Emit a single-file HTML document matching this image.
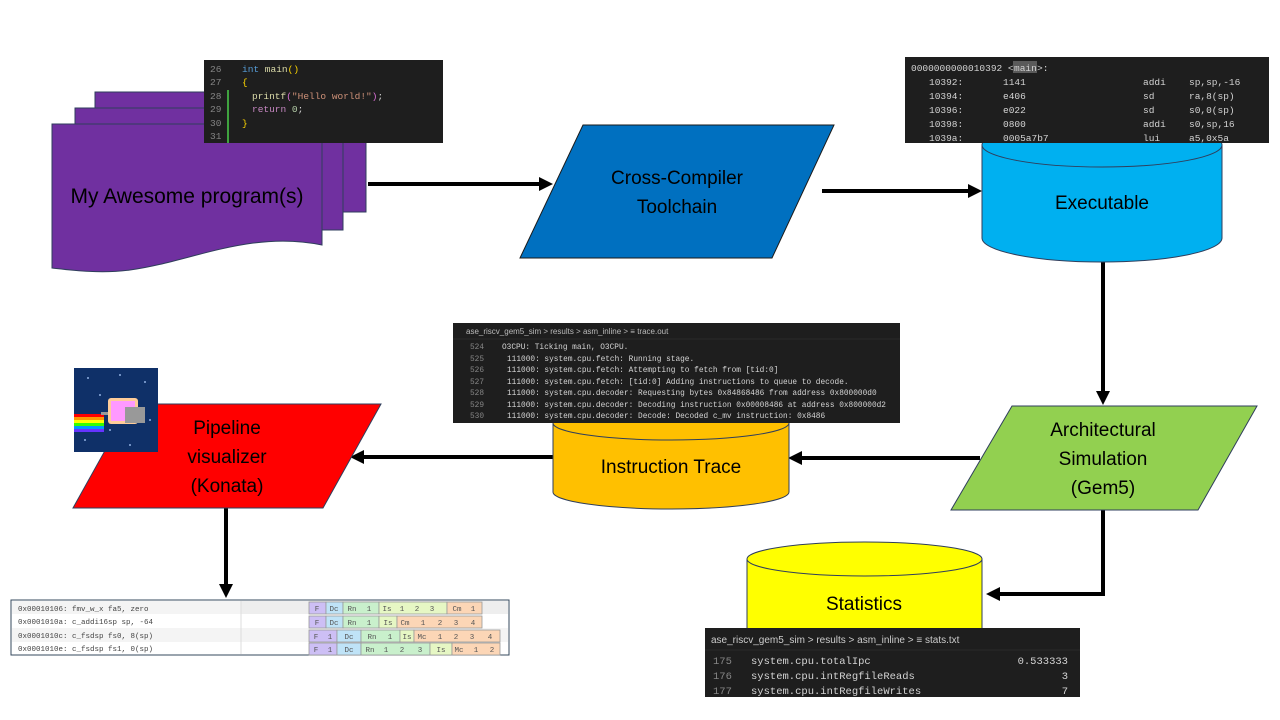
<!DOCTYPE html>
<html><head><meta charset="utf-8"><style>
html,body{margin:0;padding:0;background:#fff;width:1280px;height:720px;overflow:hidden}
svg{display:block}
.m{font-family:"Liberation Mono","DejaVu Sans Mono",monospace}
.s{font-family:"Liberation Sans","DejaVu Sans",sans-serif}
</style></head><body>
<svg width="1280" height="720" viewBox="0 0 1280 720" xmlns="http://www.w3.org/2000/svg">

<!-- connectors -->
<g stroke="#000" stroke-width="4" fill="none">
<line x1="368" y1="184" x2="540" y2="184"/>
<line x1="822" y1="191" x2="968" y2="191"/>
<line x1="1103" y1="262" x2="1103" y2="392"/>
<line x1="980" y1="458" x2="802" y2="458"/>
<line x1="553" y1="457" x2="364" y2="457"/>
<line x1="226" y1="508" x2="226" y2="585"/>
<polyline points="1103,510 1103,594 1000,594"/>
</g>
<g fill="#000">
<path d="M553,184 L539,177 L539,191 Z"/>
<path d="M982,191 L968,184 L968,198 Z"/>
<path d="M1103,405 L1096,391 L1110,391 Z"/>
<path d="M788,458 L802,451 L802,465 Z"/>
<path d="M350,457 L364,450 L364,464 Z"/>
<path d="M226,598 L219,584 L233,584 Z"/>
<path d="M986,594 L1000,587 L1000,601 Z"/>
</g>

<!-- multidocument -->
<g stroke="#2f3e5c" stroke-width="1" fill="#7030A0">
<rect x="95" y="92" width="271" height="120"/>
<rect x="75" y="108" width="268" height="122"/>
<path d="M52,124 L322,124 L322,245 C250,230 190,262 130,270 C100,274 70,270 52,268 Z"/>
</g>
<text x="187" y="203" text-anchor="middle" class="s" font-size="21" fill="#000">My Awesome program(s)</text>

<!-- code panel -->
<rect x="204" y="60" width="239" height="83" fill="#1e1e1e"/>
<line x1="228" y1="90" x2="228" y2="143" stroke="#3fa33f" stroke-width="2"/>
<g class="m" font-size="9.5">
<g fill="#858585"><text x="210" y="72">26</text><text x="210" y="85">27</text><text x="210" y="99">28</text><text x="210" y="112">29</text><text x="210" y="126">30</text><text x="210" y="139">31</text></g>
<text x="242" y="72"><tspan fill="#569cd6">int</tspan><tspan fill="#dcdcaa"> main</tspan><tspan fill="#ffd700">()</tspan></text>
<text x="242" y="85" fill="#ffd700">{</text>
<text x="252" y="99"><tspan fill="#dcdcaa">printf</tspan><tspan fill="#da70d6">(</tspan><tspan fill="#ce9178">"Hello world!"</tspan><tspan fill="#da70d6">)</tspan><tspan fill="#d4d4d4">;</tspan></text>
<text x="252" y="112"><tspan fill="#c586c0">return</tspan><tspan fill="#b5cea8"> 0</tspan><tspan fill="#d4d4d4">;</tspan></text>
<text x="242" y="126" fill="#ffd700">}</text>
</g>

<!-- cross compiler -->
<path d="M583,125 L834,125 L772,258 L520,258 Z" fill="#0070C0" stroke="#1a1a1a" stroke-width="1"/>
<text x="677" y="184" text-anchor="middle" class="s" font-size="19" fill="#000">Cross-Compiler</text>
<text x="677" y="213" text-anchor="middle" class="s" font-size="19" fill="#000">Toolchain</text>

<!-- executable cylinder -->
<path d="M982,145 L982,238 A120,24 0 0 0 1222,238 L1222,145 Z" fill="#00B0F0" stroke="#2f3e5c" stroke-width="1"/>
<ellipse cx="1102" cy="145" rx="120" ry="22" fill="#00B0F0" stroke="#2f3e5c" stroke-width="1"/>
<text x="1102" y="209" text-anchor="middle" class="s" font-size="19" fill="#000">Executable</text>

<!-- exec code panel -->
<rect x="905" y="57" width="364" height="86" fill="#1e1e1e"/>
<rect x="1013" y="61" width="24" height="12" fill="#5a5a5a"/>
<g class="m" font-size="9.5" fill="#d4d4d4">
<text x="911" y="71">0000000000010392 &lt;<tspan x="1014">main</tspan><tspan x="1037">&gt;:</tspan></text>
<text x="929" y="85">10392:</text><text x="1003" y="85">1141</text><text x="1143" y="85">addi</text><text x="1189" y="85">sp,sp,-16</text>
<text x="929" y="99">10394:</text><text x="1003" y="99">e406</text><text x="1143" y="99">sd</text><text x="1189" y="99">ra,8(sp)</text>
<text x="929" y="113">10396:</text><text x="1003" y="113">e022</text><text x="1143" y="113">sd</text><text x="1189" y="113">s0,0(sp)</text>
<text x="929" y="127">10398:</text><text x="1003" y="127">0800</text><text x="1143" y="127">addi</text><text x="1189" y="127">s0,sp,16</text>
<text x="929" y="141">1039a:</text><text x="1003" y="141">0005a7b7</text><text x="1143" y="141">lui</text><text x="1189" y="141">a5,0x5a</text>
</g>

<!-- Architectural Simulation -->
<path d="M1012,406 L1257,406 L1198,510 L951,510 Z" fill="#92D050" stroke="#2f3e5c" stroke-width="1"/>
<g class="s" font-size="19" fill="#000" text-anchor="middle">
<text x="1103" y="436">Architectural</text>
<text x="1103" y="465">Simulation</text>
<text x="1103" y="494">(Gem5)</text>
</g>

<!-- instruction trace cylinder -->
<path d="M553,423 L553,492 A118,17 0 0 0 789,492 L789,423 Z" fill="#FFC000" stroke="#2f3e5c" stroke-width="1"/>
<ellipse cx="671" cy="423" rx="118" ry="17" fill="#FFC000" stroke="#2f3e5c" stroke-width="1"/>
<text x="671" y="473" text-anchor="middle" class="s" font-size="19" fill="#000">Instruction Trace</text>

<!-- trace panel -->
<rect x="453" y="323" width="447" height="100" fill="#1e1e1e"/>
<line x1="453" y1="339" x2="900" y2="339" stroke="#2b2b2b"/>
<text x="466" y="334" class="s" font-size="8" fill="#bbb">ase_riscv_gem5_sim &gt; results &gt; asm_inline &gt;  ≡ trace.out</text>
<g class="m" font-size="7.8">
<g fill="#858585"><text x="470" y="349">524</text><text x="470" y="361">525</text><text x="470" y="372">526</text><text x="470" y="384">527</text><text x="470" y="395">528</text><text x="470" y="407">529</text><text x="470" y="418">530</text></g>
<g fill="#d4d4d4">
<text x="502" y="349">O3CPU: Ticking main, O3CPU.</text>
<text x="507" y="361">111000: system.cpu.fetch: Running stage.</text>
<text x="507" y="372">111000: system.cpu.fetch: Attempting to fetch from [tid:0]</text>
<text x="507" y="384">111000: system.cpu.fetch: [tid:0] Adding instructions to queue to decode.</text>
<text x="507" y="395">111000: system.cpu.decoder: Requesting bytes 0x84868486 from address 0x800000d0</text>
<text x="507" y="407">111000: system.cpu.decoder: Decoding instruction 0x00008486 at address 0x800000d2</text>
<text x="507" y="418">111000: system.cpu.decoder: Decode: Decoded c_mv instruction: 0x8486</text>
</g></g>

<!-- pipeline visualizer -->
<path d="M131,404 L381,404 L323,508 L73,508 Z" fill="#FF0000" stroke="#2f3e5c" stroke-width="1"/>
<g class="s" font-size="19" fill="#000" text-anchor="middle">
<text x="227" y="434">Pipeline</text>
<text x="227" y="463">visualizer</text>
<text x="227" y="492">(Konata)</text>
</g>

<!-- nyan cat -->
<rect x="74" y="368" width="84" height="84" fill="#0f3068"/>
<g fill="#8fb0e0"><circle cx="88" cy="378" r="1"/><circle cx="120" cy="375" r="1"/><circle cx="145" cy="382" r="1"/><circle cx="100" cy="395" r="1"/><circle cx="150" cy="420" r="1"/><circle cx="85" cy="440" r="1"/><circle cx="130" cy="445" r="1"/><circle cx="110" cy="430" r="1"/></g>
<rect x="74" y="414" width="30" height="3" fill="#ff0000"/><rect x="74" y="417" width="30" height="3" fill="#ff9900"/><rect x="74" y="420" width="30" height="3" fill="#ffff00"/><rect x="74" y="423" width="30" height="3" fill="#33ff00"/><rect x="74" y="426" width="30" height="3" fill="#0099ff"/><rect x="74" y="429" width="30" height="3" fill="#6633ff"/>
<rect x="108" y="398" width="30" height="26" rx="3" fill="#ffcc99"/><rect x="111" y="401" width="24" height="20" fill="#ff99ff"/>
<rect x="125" y="407" width="20" height="16" fill="#999"/>
<rect x="101" y="412" width="7" height="3" fill="#999"/>

<!-- statistics cylinder -->
<path d="M747,559 L747,640 L982,640 L982,559 Z" fill="#FFFF00" stroke="#2f3e5c" stroke-width="1"/>
<ellipse cx="864.5" cy="559" rx="117.5" ry="17" fill="#FFFF00" stroke="#2f3e5c" stroke-width="1"/>
<text x="864" y="610" text-anchor="middle" class="s" font-size="19" fill="#000">Statistics</text>

<!-- stats panel -->
<rect x="705" y="628" width="375" height="69" fill="#1e1e1e"/>
<line x1="705" y1="650" x2="1080" y2="650" stroke="#2b2b2b"/>
<text x="711" y="643" class="s" font-size="10" fill="#ccc">ase_riscv_gem5_sim &gt; results &gt; asm_inline &gt;  ≡ stats.txt</text>
<g class="m" font-size="10.5">
<g fill="#858585"><text x="713" y="664">175</text><text x="713" y="679">176</text><text x="713" y="694">177</text></g>
<g fill="#d4d4d4"><text x="751" y="664">system.cpu.totalIpc</text><text x="751" y="679">system.cpu.intRegfileReads</text><text x="751" y="694">system.cpu.intRegfileWrites</text>
<text x="1068" y="664" text-anchor="end">0.533333</text><text x="1068" y="679" text-anchor="end">3</text><text x="1068" y="694" text-anchor="end">7</text></g>
</g>

<!-- konata table -->
<rect x="11" y="600" width="498" height="55" fill="#fff" stroke="#34495e" stroke-width="1"/>
<rect x="12" y="601" width="229" height="13" fill="#f4f4f4"/>
<rect x="241" y="601" width="267" height="13" fill="#eeeeee"/>
<rect x="12" y="628" width="496" height="14" fill="#f4f4f4"/>
<line x1="241" y1="601" x2="241" y2="654" stroke="#ddd"/>
<g class="m" font-size="7.5" fill="#444">
<text x="18" y="611">0x00010106: fmv_w_x fa5, zero</text>
<text x="18" y="624">0x0001010a: c_addi16sp sp, -64</text>
<text x="18" y="638">0x0001010c: c_fsdsp fs0, 8(sp)</text>
<text x="18" y="651">0x0001010e: c_fsdsp fs1, 0(sp)</text>
</g>
<g stroke="#999" stroke-width="0.8">
<rect x="309" y="602" width="17" height="12" fill="#cdbff5"/><rect x="326" y="602" width="17" height="12" fill="#bfe3f7"/><rect x="343" y="602" width="36" height="12" fill="#c9f0cc"/><rect x="379" y="602" width="68" height="12" fill="#e6f7c4"/><rect x="447" y="602" width="35" height="12" fill="#fcd6b6"/>
<rect x="309" y="616" width="17" height="12" fill="#cdbff5"/><rect x="326" y="616" width="17" height="12" fill="#bfe3f7"/><rect x="343" y="616" width="36" height="12" fill="#c9f0cc"/><rect x="379" y="616" width="18" height="12" fill="#e6f7c4"/><rect x="397" y="616" width="85" height="12" fill="#fcd6b6"/>
<rect x="309" y="630" width="28" height="12" fill="#cdbff5"/><rect x="337" y="630" width="24" height="12" fill="#bfe3f7"/><rect x="361" y="630" width="39" height="12" fill="#c9f0cc"/><rect x="400" y="630" width="14" height="12" fill="#e6f7c4"/><rect x="414" y="630" width="86" height="12" fill="#fcd6b6"/>
<rect x="309" y="643" width="28" height="12" fill="#cdbff5"/><rect x="337" y="643" width="24" height="12" fill="#bfe3f7"/><rect x="361" y="643" width="69" height="12" fill="#c9f0cc"/><rect x="430" y="643" width="22" height="12" fill="#e6f7c4"/><rect x="452" y="643" width="48" height="12" fill="#fcd6b6"/>
</g>
<g class="m" font-size="7.5" fill="#555" text-anchor="middle">
<text x="317" y="611">F</text><text x="334" y="611">Dc</text><text x="352" y="611">Rn</text><text x="369" y="611">1</text><text x="387" y="611">Is</text><text x="402" y="611">1</text><text x="417" y="611">2</text><text x="432" y="611">3</text><text x="457" y="611">Cm</text><text x="473" y="611">1</text>
<text x="317" y="625">F</text><text x="334" y="625">Dc</text><text x="352" y="625">Rn</text><text x="369" y="625">1</text><text x="388" y="625">Is</text><text x="405" y="625">Cm</text><text x="423" y="625">1</text><text x="440" y="625">2</text><text x="456" y="625">3</text><text x="473" y="625">4</text>
<text x="316" y="639">F</text><text x="330" y="639">1</text><text x="349" y="639">Dc</text><text x="372" y="639">Rn</text><text x="390" y="639">1</text><text x="407" y="639">Is</text><text x="422" y="639">Mc</text><text x="440" y="639">1</text><text x="456" y="639">2</text><text x="472" y="639">3</text><text x="490" y="639">4</text>
<text x="316" y="652">F</text><text x="330" y="652">1</text><text x="349" y="652">Dc</text><text x="370" y="652">Rn</text><text x="386" y="652">1</text><text x="402" y="652">2</text><text x="420" y="652">3</text><text x="441" y="652">Is</text><text x="459" y="652">Mc</text><text x="476" y="652">1</text><text x="492" y="652">2</text>
</g>
</svg>
</body></html>
